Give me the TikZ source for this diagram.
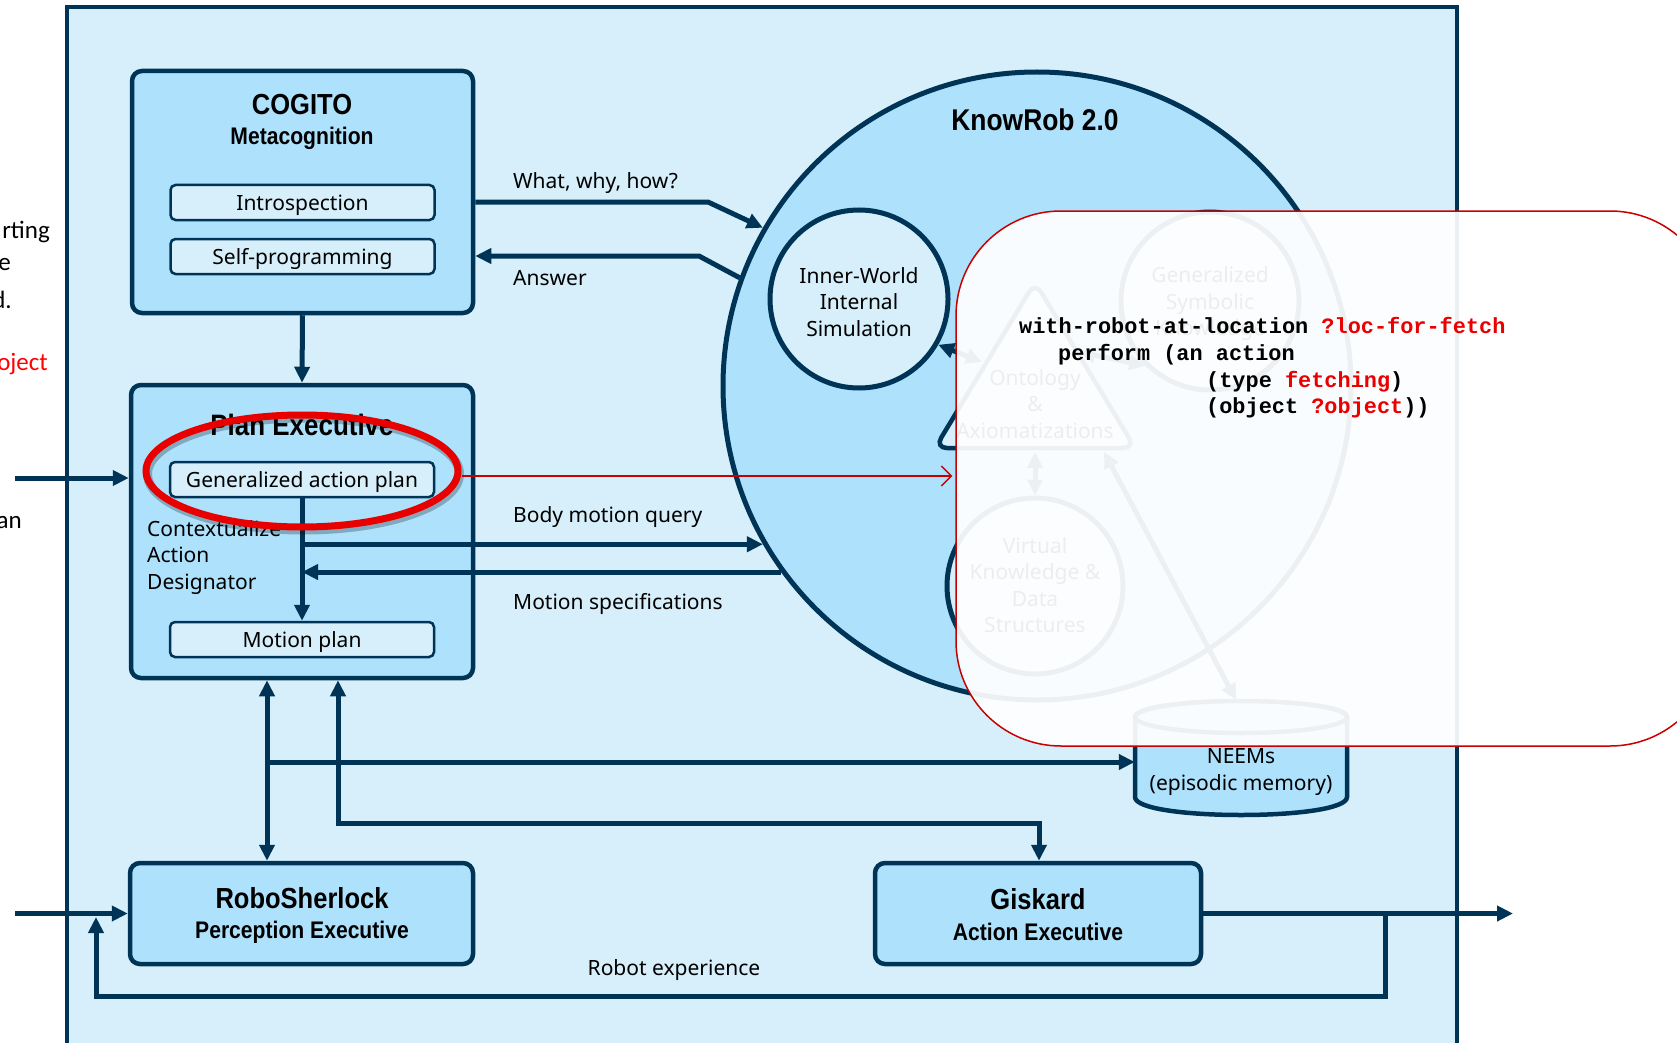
\documentclass[tikz,border=0pt]{standalone}
\usepackage{fontspec}
\setmainfont{Noto Sans}
\newfontfamily\bodyf{Noto Sans}
\newfontfamily\condf[FakeStretch=0.88]{Liberation Sans}
\newfontfamily\monof{Liberation Mono}
\newfontfamily\leftf{Carlito}
\usetikzlibrary{arrows.meta,shapes.geometric}
\definecolor{navy}{RGB}{0,52,86}
\definecolor{bgl}{RGB}{214,239,250}
\definecolor{boxb}{RGB}{173,225,252}
\definecolor{redc}{RGB}{232,0,0}
\definecolor{ovred}{RGB}{200,0,0}
\definecolor{codered}{RGB}{235,0,0}
\begin{document}
\begin{tikzpicture}[x=1pt,y=-1pt,
  box/.style={draw=navy, line width=4.5pt, fill=boxb, rounded corners=10pt, inner sep=0pt},
  sbox/.style={draw=navy, line width=2.5pt, fill=bgl, rounded corners=5pt, minimum width=264pt, minimum height=35pt, inner sep=0pt, text height=16pt, text depth=1pt, font=\bodyf\fontsize{21}{25}\selectfont},
  kcirc/.style={circle, draw=navy, line width=5pt, fill=bgl, inner sep=0pt},
  txt/.style={font=\bodyf\fontsize{21}{26.5}\selectfont, inner sep=0pt, yshift=-2pt},
  ttl/.style={font=\condf\bfseries\fontsize{29}{33}\selectfont, inner sep=0pt},
  sttl/.style={font=\condf\bfseries\fontsize{24}{28}\selectfont, inner sep=0pt},
  code/.style={font=\monof\bfseries\fontsize{21.9}{26}\selectfont, inner sep=0pt},
  lt/.style={font=\leftf\fontsize{25}{30}\selectfont, inner sep=0pt},
  arr/.style={draw=navy, line width=5pt, -{Triangle[length=16pt,width=15pt]}},
  arrb/.style={draw=navy, line width=5pt, {Triangle[length=16pt,width=15pt]}-{Triangle[length=16pt,width=15pt]}}
]
\useasboundingbox (0,0) rectangle (1677,1043);
\clip (0,0) rectangle (1677,1043);

% outer frame
\draw[navy, line width=4pt, fill=bgl] (67,7) rectangle (1457,1070);

% COGITO
\node[box, minimum width=341pt, minimum height=242pt] (cogito) at (302.5,192) {};
\node[ttl] (cogitoT) at (302,105) {COGITO};
\node[sttl] (cogitoS) at (302,138.5) {Metacognition};
\node[sbox] (intro) at (302.5,202.5) {Introspection};
\node[sbox] (selfp) at (302.5,256.5) {Self-programming};

% Plan executive
\node[box, minimum width=342pt, minimum height=293pt] (planexec) at (302,531.5) {};
\node[ttl, font=\condf\bfseries\fontsize{29.5}{33}\selectfont] (planT) at (302,425) {Plan Executive};
\node[sbox] (gap) at (302,479.5) {Generalized action plan};
\node[sbox] (motion) at (302,639.5) {Motion plan};
\node[txt, align=left, anchor=west] (ctx) at (147,555.5) {Contextualize\\Action\\Designator};

% RoboSherlock / Giskard
\node[box, minimum width=343pt, minimum height=101pt] (robo) at (301.5,913.5) {};
\node[ttl] (roboT) at (302,898.5) {RoboSherlock};
\node[sttl] (roboS) at (302,932) {Perception Executive};
\node[box, minimum width=326pt, minimum height=101pt] (giskard) at (1038,913.5) {};
\node[ttl] (giskT) at (1038,899) {Giskard};
\node[sttl] (giskS) at (1038,932) {Action Executive};

% KnowRob
\node[circle, draw=navy, line width=5pt, fill=boxb, minimum size=628pt, inner sep=0pt] (knowrob) at (1037,386) {};
\node[ttl, font=\condf\bfseries\fontsize{30}{34}\selectfont] (knowT) at (1035,120) {KnowRob 2.0};
\node[kcirc, minimum size=178pt] (inner) at (859,299) {};
\node[txt, align=center] (innerT) at ([yshift=-1pt]inner.center) {Inner-World\\Internal\\Simulation};
\node[kcirc, minimum size=178pt] (gsk) at (1210,301) {};
\node[txt, align=center] (gskT) at ([yshift=-1pt]gsk.center) {Generalized\\Symbolic\\Knowledge};
\node[kcirc, minimum size=176pt] (virt) at (1035,586) {};
\node[txt, align=center] (virtT) at ([yshift=3pt]virt.center) {Virtual\\Knowledge \&\\Data\\Structures};
\draw[navy, line width=4.5pt, fill=bgl, rounded corners=12pt] (1035,282) -- (1135,448) -- (935,448) -- cycle;
\node[txt, align=center] (onto) at (1035,402) {Ontology\\\&\\Axiomatizations};

% NEEMs cylinder
\node[minimum width=212pt, minimum height=100pt, inner sep=0pt] (neems) at (1241,762) {};
\draw[navy, line width=4.5pt, fill=boxb] (1135,717) -- (1135,797) .. controls (1135,821) and (1347,821) .. (1347,797) -- (1347,717) .. controls (1347,696) and (1135,696) .. (1135,717) -- cycle;
\draw[navy, line width=4.5pt, fill=boxb] (1241,717) ellipse [x radius=106pt, y radius=16pt];
\node[txt, align=center] (neemsT) at (1241,770) {NEEMs\\(episodic memory)};

% KnowRob internal arrows
\coordinate (ontoL) at (982,362);
\coordinate (ontoR) at (1079,352);
\coordinate (ontoB) at (1035,452);
\coordinate (ontoBR) at (1104,452);
\coordinate (neemsTop) at (1236,700);
\draw[arrb] (inner.-30) -- (ontoL);
\draw[arrb] (ontoR) -- (gsk.225);
\draw[arrb] (ontoB) -- (virt.north);
\draw[arrb] (ontoBR) -- (neemsTop);

% connectors
\coordinate (wb) at (708,202);
\coordinate (ab) at (699,256);
\draw[arr] (cogito.east |- wb) -- (wb) -- (knowrob.150);
\draw[arr] (knowrob.160) -- (ab) -- (ab -| cogito.east);
\node[txt, anchor=west] (whatL) at (513,181) {What, why, how?};
\node[txt, anchor=west] (ansL) at (513,276) {Answer};

\draw[arr] (cogito.south) -- (planexec.north);
\draw[arr] (gap.south) -- (motion.north);
\draw[arr] (gap.south |- knowrob.210) -- (knowrob.210);
\draw[arr] (knowrob.216) -- (gap.south |- knowrob.216);
\node[txt, anchor=west] (bmqL) at (513,515) {Body motion query};
\node[txt, anchor=west] (msL) at (513,602) {Motion specifications};

\coordinate (inL) at (15,478);
\draw[arr] (inL) -- (inL -| planexec.west);

\coordinate (v1) at (267,762);
\coordinate (v2) at (338,823);
\coordinate (v3) at (1039,823);
\draw[arrb] (planexec.south -| v1) -- (robo.north -| v1);
\draw[arr] (v1) -- (neems.west);
\draw[arrb] (planexec.south -| v2) -- (v2) -- (v3) -- (giskard.north -| v3);

\coordinate (inR) at (15,913.5);
\coordinate (outR) at (1513,913.5);
\coordinate (fb2) at (1385,996);
\coordinate (fb3) at (96,996);
\coordinate (fb4) at (96,917);
\draw[arr] (inR) -- (robo.west);
\draw[arr] (giskard.east) -- (outR);
\draw[arr] (giskard.east -| fb2) -- (fb2) -- (fb3) -- (fb4);
\node[txt] (robexp) at (674,968) {Robot experience};

% highlight ellipse
\node[ellipse, draw=black, draw opacity=0.25, line width=9pt, minimum width=312pt, minimum height=112pt, inner sep=0pt] (hlshadow) at (303.5,474) {};
\node[ellipse, draw=redc, line width=7pt, minimum width=312pt, minimum height=112pt, inner sep=0pt] (hl) at (302,471) {};

% overlay callout
\node[draw=ovred, line width=1.5pt, fill=white, fill opacity=0.93, rounded corners=105pt, minimum width=759pt, minimum height=535pt, inner sep=0pt] (overlay) at (1335.5,478.5) {};
\draw[ovred, line width=1.3pt, shorten >=3pt, -{Straight Barb[length=10pt,width=20pt]}] ([yshift=-5pt]hl.east) -- ([yshift=-5pt]hl.east -| overlay.west);

\node[code, anchor=base west] (c1) at (1019,333) {with-robot-at-location \textcolor{codered}{?loc-for-fetch}};
\node[code, anchor=base west] (c2) at (1058,360) {perform (an action};
\node[code, anchor=base west] (c3) at (1206,387) {(type \textcolor{codered}{fetching})};
\node[code, anchor=base west] (c4) at (1206,413) {(object \textcolor{codered}{?object}))};

% cut-off text at left edge
\node[lt, anchor=east] (l1) at (50,232) {rting};
\node[lt, anchor=east] (l2) at (11,265) {e};
\node[lt, anchor=east] (l3) at (12,300) {d.};
\node[lt, anchor=east, text={rgb,255:red,255;green,0;blue,0}] (l4) at (48,364) {oject};
\node[lt, anchor=east] (l5) at (22,523) {an};
\end{tikzpicture}
\end{document}
